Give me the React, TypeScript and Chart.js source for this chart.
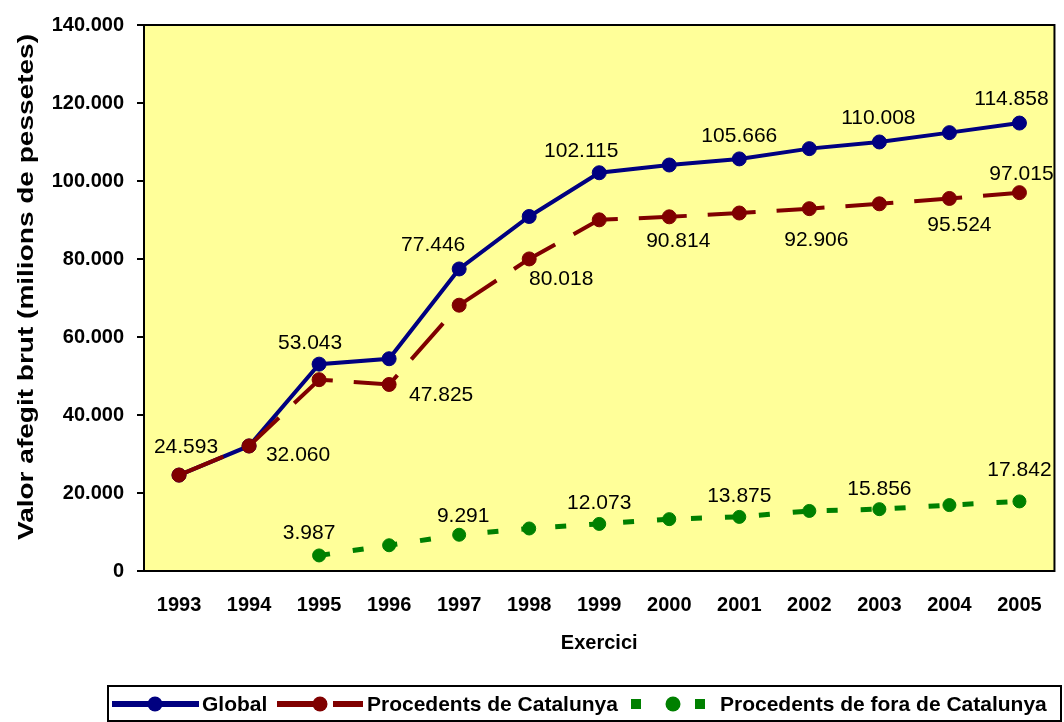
import React, { useEffect, useRef } from 'react';
import { Chart, registerables } from 'chart.js';

Chart.register(...registerables);

const years = ['1993', '1994', '1995', '1996', '1997', '1998', '1999', '2000', '2001', '2002', '2003', '2004', '2005'];
const globalValues = [24593, 32060, 53043, 54425, 77446, 90900, 102115, 104100, 105666, 108300, 110008, 112400, 114858];
const catalunyaValues = [24593, 32060, 49056, 47825, 68155, 80018, 90042, 90814, 91791, 92906, 94152, 95524, 97015];
const foraValues: (number | null)[] = [null, null, 3987, 6600, 9291, 10900, 12073, 13300, 13875, 15400, 15856, 16900, 17842];

const seriesNames = ['Global', 'Procedents de Catalunya', 'Procedents de fora de Catalunya'];
const yTitle = 'Valor afegit brut (milions de pessetes)';
const xTitle = 'Exercici';
const yMax = 140000;
const yStep = 20000;

// data-label placement (offset of label centre from its point), null = no label
type Off = [number, number] | null;
const globalLabelOffsets: Off[] = [[7, -28], null, [-9, -21], null, [-26, -24], null, [-18, -22], null, [0, -23], null, [-1, -24], null, [-8, -24]];
const catalunyaLabelOffsets: Off[] = [null, [49, 9], null, [52, 11], null, [32, 20], null, [9, 24], null, [7, 32], null, [10, 27], [2, -18]];
const foraLabelOffsets: Off[] = [null, null, [-10, -22], null, [4, -19], null, [0, -21], null, [0, -21], null, [0, -20], null, [0, -31]];

const NAVY = '#000080';
const MAROON = '#800000';
const GREEN = '#008000';
const FONT = '"Liberation Sans", Arial, sans-serif';

const fmt = (v: number) => String(Math.round(v)).replace(/\B(?=(\d{3})+(?!\d))/g, '.');

const decor = {
  id: 'decor',
  beforeDatasetsDraw(chart: any) {
    const { ctx, chartArea: a } = chart;
    ctx.save();
    ctx.fillStyle = '#FFFF99';
    ctx.fillRect(a.left, a.top, a.right - a.left, a.bottom - a.top);
    ctx.strokeStyle = '#000';
    ctx.lineWidth = 2;
    ctx.strokeRect(a.left, a.top, a.right - a.left, a.bottom - a.top);
    ctx.restore();
  },
  afterDatasetsDraw(chart: any) {
    const { ctx } = chart;
    const offs = [globalLabelOffsets, catalunyaLabelOffsets, foraLabelOffsets];
    ctx.save();
    ctx.font = `21px ${FONT}`;
    ctx.fillStyle = '#000';
    ctx.textAlign = 'center';
    ctx.textBaseline = 'middle';
    offs.forEach((arr, di) => {
      const meta = chart.getDatasetMeta(di);
      const data = chart.data.datasets[di].data;
      arr.forEach((o, i) => {
        if (!o || data[i] == null) return;
        const el = meta.data[i];
        ctx.fillText(fmt(data[i]), el.x + o[0], el.y + o[1]);
      });
    });
    ctx.restore();
  },
  afterDraw(chart: any) {
    const { ctx, chartArea: a } = chart;
    ctx.save();
    // y-axis title (stretched like the original)
    ctx.font = `bold 22px ${FONT}`;
    ctx.fillStyle = '#000';
    ctx.textAlign = 'center';
    ctx.textBaseline = 'middle';
    const w = ctx.measureText(yTitle).width;
    ctx.translate(27, 287);
    ctx.rotate(-Math.PI / 2);
    ctx.scale(506 / w, 1);
    ctx.fillText(yTitle, 0, 0);
    ctx.restore();

    // legend
    ctx.save();
    const ly = 704;
    ctx.strokeStyle = '#000';
    ctx.lineWidth = 2;
    ctx.strokeRect(108, 686, 953, 35);
    const point = (x: number, c: string) => {
      ctx.beginPath();
      ctx.fillStyle = c;
      ctx.arc(x, ly, 7.5, 0, Math.PI * 2);
      ctx.fill();
    };
    // Global
    ctx.lineWidth = 6;
    ctx.strokeStyle = NAVY;
    ctx.beginPath();
    ctx.moveTo(112, ly);
    ctx.lineTo(199, ly);
    ctx.stroke();
    point(155, NAVY);
    // Catalunya
    ctx.strokeStyle = MAROON;
    ctx.beginPath();
    ctx.moveTo(277, ly);
    ctx.lineTo(327, ly);
    ctx.moveTo(333, ly);
    ctx.lineTo(363, ly);
    ctx.stroke();
    point(320, MAROON);
    // fora
    ctx.fillStyle = GREEN;
    ctx.fillRect(631, ly - 5, 10, 10);
    ctx.fillRect(695, ly - 5, 10, 10);
    point(673, GREEN);
    ctx.font = `bold 21px ${FONT}`;
    ctx.fillStyle = '#000';
    ctx.textAlign = 'left';
    ctx.textBaseline = 'middle';
    ctx.fillText(seriesNames[0], 202, ly + 1);
    ctx.fillText(seriesNames[1], 367, ly + 1);
    ctx.fillText(seriesNames[2], 720, ly + 1);
    ctx.restore();
  },
};

export default function App() {
  const ref = useRef<HTMLCanvasElement>(null);
  useEffect(() => {
    document.body.style.margin = '0';
    const chart = new Chart(ref.current as HTMLCanvasElement, {
      type: 'line',
      data: {
        labels: years,
        datasets: [
          {
            label: seriesNames[0],
            data: globalValues,
            borderColor: NAVY,
            backgroundColor: NAVY,
            pointBackgroundColor: NAVY,
            pointBorderColor: NAVY,
            borderWidth: 4,
            pointRadius: 7,
            pointBorderWidth: 1,
            tension: 0,
            order: 1,
          },
          {
            label: seriesNames[1],
            data: catalunyaValues,
            borderColor: MAROON,
            backgroundColor: MAROON,
            pointBackgroundColor: MAROON,
            pointBorderColor: MAROON,
            borderWidth: 4,
            borderDash: [48, 21],
            pointRadius: 7,
            pointBorderWidth: 1,
            tension: 0,
            order: 0,
          },
          {
            label: seriesNames[2],
            data: foraValues,
            borderColor: GREEN,
            backgroundColor: GREEN,
            pointBackgroundColor: GREEN,
            pointBorderColor: GREEN,
            borderWidth: 5,
            borderDash: [11, 23],
            pointRadius: 6.5,
            pointBorderWidth: 1,
            tension: 0,
            order: -1,
          },
        ],
      },
      options: {
        animation: false,
        responsive: false,
        devicePixelRatio: 1,
        layout: { padding: { top: 24, right: 8, bottom: 62, left: 0 } },
        plugins: {
          legend: { display: false },
          tooltip: { enabled: false },
        },
        scales: {
          x: {
            offset: true,
            grid: { display: false, drawTicks: false },
            border: { display: false },
            ticks: {
              color: '#000',
              font: { family: FONT, size: 20, weight: 'bold' },
              padding: 22,
              maxRotation: 0,
              autoSkip: false,
            },
            title: {
              display: true,
              text: xTitle,
              color: '#000',
              font: { family: FONT, size: 20, weight: 'bold' },
              padding: { top: 0, bottom: 5 },
            },
            afterFit: (s: any) => {
              s.height = 89;
            },
          },
          y: {
            min: 0,
            max: yMax,
            grid: { display: true, drawOnChartArea: false, drawTicks: true, tickLength: 7, color: '#000', lineWidth: 2 },
            border: { display: false },
            ticks: {
              stepSize: yStep,
              color: '#000',
              font: { family: FONT, size: 20, weight: 'bold' },
              padding: 13,
              callback: (v: any) => fmt(Number(v)),
            },
            afterFit: (s: any) => {
              s.width = 144;
            },
          },
        },
      },
      plugins: [decor],
    } as any);
    return () => chart.destroy();
  }, []);
  return (
    <div style={{ position: 'absolute', left: 0, top: 0, width: 1064, height: 722 }}>
      <canvas ref={ref} width={1064} height={722} style={{ display: 'block' }} />
    </div>
  );
}
